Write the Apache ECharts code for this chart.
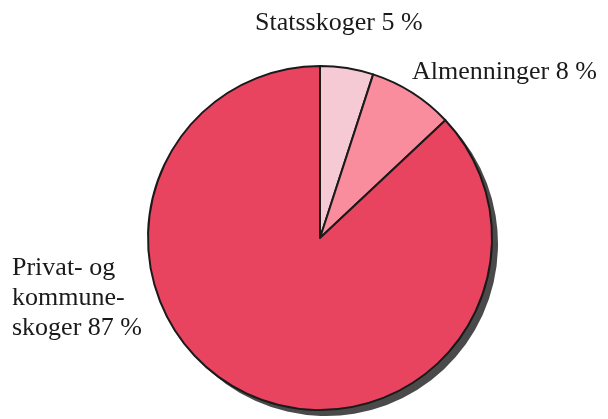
<!DOCTYPE html>
<html>
<head>
<meta charset="utf-8">
<script src="https://cdn.jsdelivr.net/npm/echarts@6/dist/echarts.min.js"></script>
<style>html,body{margin:0;padding:0;background:#fff}#c{width:608px;height:419px}</style>
</head>
<body>
<div id="c"></div>
<script>
const categories = ['Statsskoger', 'Almenninger', 'Privat- og\nkommune-\nskoger'];
const values = [5, 8, 87];
const colors = ['#F6CAD4', '#F98D9D', '#E8445F'];

const labelPos = [
  {x: 255, y: 23, align: 'left'},
  {x: 412, y: 72, align: 'left'},
  {x: 12, y: 298, align: 'left'}
];

const chart = echarts.init(document.getElementById('c'), null, {renderer: 'canvas'});
chart.setOption({
  animation: false,
  backgroundColor: '#fff',
  series: [
    {
      type: 'pie',
      silent: true,
      center: [326, 244],
      radius: 172,
      startAngle: 90,
      label: {show: false},
      labelLine: {show: false},
      itemStyle: {color: '#4a4a4a', borderWidth: 0},
      data: categories.map((n, i) => ({name: n + '_s', value: values[i]}))
    },
    {
      type: 'pie',
      center: [320, 238],
      radius: 172,
      startAngle: 90,
      avoidLabelOverlap: false,
      itemStyle: {borderColor: '#1a1a1a', borderWidth: 2},
      label: {
        show: true,
        overflow: 'none',
        formatter: p => p.name + ' ' + p.value + ' %',
        fontFamily: 'Liberation Serif',
        fontSize: 26,
        lineHeight: 30,
        color: '#1a1a1a'
      },
      labelLine: {show: false},
      labelLayout: p => ({
        x: labelPos[p.dataIndex].x,
        y: labelPos[p.dataIndex].y,
        align: labelPos[p.dataIndex].align,
        verticalAlign: 'middle'
      }),
      data: categories.map((n, i) => ({name: n, value: values[i], itemStyle: {color: colors[i]}}))
    }
  ]
});
</script>
</body>
</html>
